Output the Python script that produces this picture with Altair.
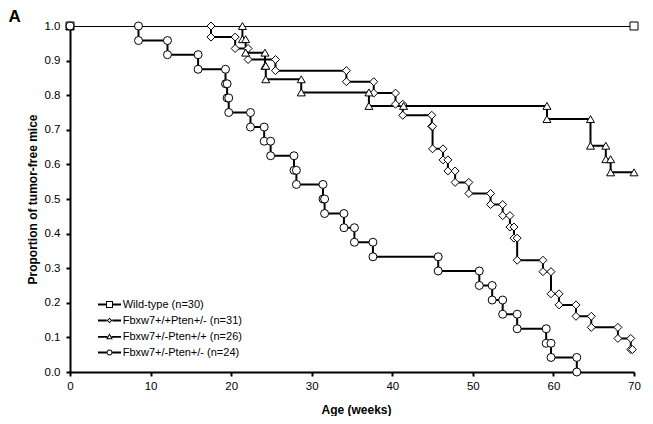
import altair as alt
import pandas as pd

FONT = "Liberation Sans, Arial, sans-serif"

series_labels = [
    "Wild-type (n=30)",
    "Fbxw7+/+Pten+/- (n=31)",
    "Fbxw7+/-Pten+/+ (n=26)",
    "Fbxw7+/-Pten+/- (n=24)",
]
series_shapes = ["square", "diamond", "triangle-up", "circle"]
series_marker_sizes = [64, 64, 64, 72]
# legend symbols (filled outlines): a thick short line through a thin open marker
legend_paths = [
    "M-3.3,-0.28H-1V0.28H-3.3Z M1,-0.28H3.3V0.28H1Z "
    "M-1,-1H1V1H-1Z M-0.714,-0.714V0.714H0.714V-0.714Z",
    "M-3.3,-0.28H-0.8V0.28H-3.3Z M0.8,-0.28H3.3V0.28H0.8Z "
    "M-0.8,0L0,-0.8L0.8,0L0,0.8Z M-0.4,0L0,0.4L0.4,0L0,-0.4Z",
    "M-3.3,-0.15H-0.62V0.38H-3.3Z M0.62,-0.15H3.3V0.38H0.62Z "
    "M0,-0.9L0.95,0.75L-0.95,0.75Z M0,-0.327L-0.456,0.465L0.456,0.465Z",
    "M-3.3,-0.28H-0.85V0.28H-3.3Z M0.85,-0.28H3.3V0.28H0.85Z "
    "M-0.85,0A0.85,0.85,0,1,1,0.85,0A0.85,0.85,0,1,1,-0.85,0Z "
    "M-0.564,0A0.564,0.564,0,1,0,0.564,0A0.564,0.564,0,1,0,-0.564,0Z",
]

x_ticks = [0, 10, 20, 30, 40, 50, 60, 70]
y_ticks = [0.0, 0.1, 0.2, 0.3, 0.4, 0.5, 0.6, 0.7, 0.8, 0.9, 1.0]

# Wild-type: no events, followed to 70 weeks
wt_event_weeks = []
wt_event_surv = []
wt_censor_weeks = [70.0]

# Fbxw7+/+Pten+/- (n=31)
pten_event_weeks = [17.5, 20.5, 22.1, 25.5, 34.3, 37.7, 40.4, 41.3, 44.9, 45.0,
                    46.3, 46.9, 47.8, 49.5, 52.2, 53.7, 54.6, 55.1, 55.5, 58.7,
                    59.7, 60.7, 62.8, 64.7, 68.0, 69.6]
pten_event_surv = [0.968, 0.935, 0.903, 0.871, 0.839, 0.806, 0.774, 0.742, 0.710, 0.645,
                   0.613, 0.581, 0.548, 0.516, 0.484, 0.452, 0.419, 0.387, 0.323, 0.290,
                   0.226, 0.194, 0.161, 0.129, 0.097, 0.065]
pten_censor_weeks = [69.8]

# Fbxw7+/-Pten+/+ (n=26)
fbxw7_event_weeks = [21.4, 21.8, 24.2, 24.3, 28.7, 37.1, 59.2, 64.6, 66.5, 67.1]
fbxw7_event_surv = [0.962, 0.923, 0.885, 0.846, 0.808, 0.769, 0.731, 0.654, 0.615, 0.577]
fbxw7_censor_weeks = [41.4, 70.0]

# Fbxw7+/-Pten+/- (n=24)
double_event_weeks = [8.5, 12.1, 15.9, 19.3, 19.5, 19.7, 22.4, 24.1, 24.9, 27.8,
                      28.1, 31.4, 31.6, 34.0, 35.3, 37.6, 45.7, 50.8, 52.4, 53.7,
                      55.5, 59.1, 59.7, 62.9]
double_event_surv = [0.958, 0.917, 0.875, 0.833, 0.792, 0.750, 0.708, 0.667, 0.625, 0.583,
                     0.542, 0.500, 0.458, 0.417, 0.375, 0.333, 0.292, 0.250, 0.208, 0.167,
                     0.125, 0.083, 0.042, 0.0]
double_censor_weeks = []

rows = []


def add_series(label, ev_w, ev_s, cen_w):
    items = [(w, 0, s) for w, s in zip(ev_w, ev_s)] + [(w, 1, None) for w in cen_w]
    items.sort(key=lambda r: (r[0], r[1]))
    pts = [(0.0, 1.0)]
    cur = 1.0
    for w, kind, s in items:
        if kind == 0:
            pts.append((w, cur))
            pts.append((w, s))
            cur = s
        else:
            pts.append((w, cur))
    for i, (w, s) in enumerate(pts):
        rows.append({"series": label, "week": w, "surv": s, "idx": i})


add_series(series_labels[0], wt_event_weeks, wt_event_surv, wt_censor_weeks)
add_series(series_labels[1], pten_event_weeks, pten_event_surv, pten_censor_weeks)
add_series(series_labels[2], fbxw7_event_weeks, fbxw7_event_surv, fbxw7_censor_weeks)
add_series(series_labels[3], double_event_weeks, double_event_surv, double_censor_weeks)

df = pd.DataFrame(rows)
base = alt.Chart(df)

x = alt.X(
    "week:Q",
    scale=alt.Scale(domain=[0, 70], nice=False, zero=False),
    axis=alt.Axis(values=x_ticks, title="Age (weeks)", labelFlush=False,
                  labelPadding=4, titleX=286, titleY=37, titleBaseline="middle"),
)
y = alt.Y(
    "surv:Q",
    scale=alt.Scale(domain=[0, 1], nice=False),
    axis=alt.Axis(values=y_ticks, format=".1f", title="Proportion of tumor-free mice",
                  labelFlush=False, labelPadding=6, titleX=-38, titleY=173,
                  titleBaseline="middle", titleAngle=270),
)

lines = base.mark_line(clip=True, strokeWidth=2, color="black").encode(
    x=x,
    y=y,
    order=alt.Order("idx:Q"),
    detail="series:N",
)

markers = base.mark_point(filled=True, fill="white", stroke="black", strokeWidth=1, opacity=1).encode(
    x=x,
    y=y,
    shape=alt.Shape("series:N", scale=alt.Scale(domain=series_labels, range=series_shapes), legend=None),
    size=alt.Size("series:N", scale=alt.Scale(domain=series_labels, range=series_marker_sizes), legend=None),
)

legend_layer = base.transform_filter(alt.datum.idx < 0).mark_point(
    filled=True, color="black", strokeWidth=0, opacity=1
).encode(
    x=x,
    y=y,
    shape=alt.Shape(
        "series:N",
        scale=alt.Scale(domain=series_labels, range=legend_paths),
        legend=alt.Legend(
            title=None, orient="none", legendX=34, legendY=273,
            symbolSize=49, symbolStrokeWidth=0, symbolOpacity=1,
            symbolFillColor="black", symbolStrokeColor="transparent",
            labelFont=FONT, labelFontSize=11, labelColor="black",
            labelOffset=7.7, rowPadding=4.0, padding=0,
        ),
    ),
)

chart = alt.layer(lines, markers, legend_layer).resolve_scale(
    shape="independent", size="independent"
).properties(
    width=564,
    height=346,
    autosize=alt.AutoSizeParams(type="none"),
    padding={"left": 62, "top": 18, "right": 11, "bottom": 44},
    title=alt.TitleParams(
        text="A", anchor="start", frame="group", dx=-61.5, dy=23, offset=4,
        baseline="alphabetic", fontSize=17, fontWeight="bold", font=FONT, color="black",
    ),
).configure_view(stroke=None).configure_axis(
    grid=False,
    domainColor="black",
    domainWidth=2,
    tickColor="black",
    tickWidth=2,
    tickSize=4,
    labelFont=FONT,
    labelFontSize=11.5,
    labelColor="black",
    titleFont=FONT,
    titleFontSize=12,
    titleFontWeight="bold",
    titleColor="black",
)

chart.save("out.html", embed_options={"renderer": "svg", "actions": False})
